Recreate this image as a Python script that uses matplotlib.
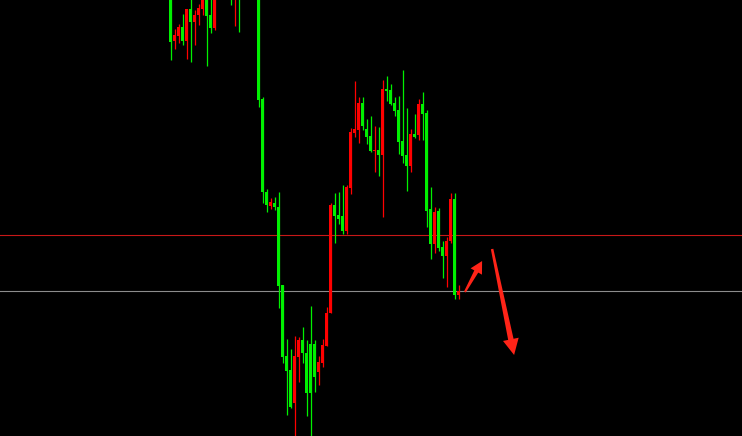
import numpy as np
import matplotlib
matplotlib.use("Agg")
import matplotlib.pyplot as plt
from matplotlib.patches import Polygon

# OHLC series (price units), one entry per bar
opens = [446, 395, 400, 409, 395, 427, 414, 421, 427, 442, 421, 408,
         481, 476, 501, 476, 444, 476, 466, 446, 471, 456,
         446, 337, 244, 230, 233, 229, 151, 80, 66, 33, 79, 96, 83, 92, 92, 64, 73, 90, 123,
         231, 221, 220, 205, 248, 303, 306, 333, 307, 300, 285, 286, 281, 347, 346, 333, 326,
         295, 281, 270, 302, 301, 332, 323, 227, 192, 225, 189, 180, 195, 237, 141]
closes = [394, 401, 409, 395, 427, 414, 421, 428, 445, 420, 408, 456,
          451, 496, 466, 448, 466, 446, 441, 466, 444, 442,
          336, 244, 231, 234, 229, 150, 79, 65, 29, 80, 96, 83, 43, 43, 59, 74, 91, 123, 231,
          220, 217, 205, 249, 304, 307, 333, 310, 299, 285, 285, 281, 347, 345, 332, 325, 294,
          280, 270, 302, 299, 332, 322, 225, 192, 224, 188, 180, 195, 237, 141, 145]
highs = [450, 407, 412, 422, 427, 442, 426, 432, 444, 446, 440, 461,
         491, 506, 516, 486, 481, 486, 471, 476, 481, 466,
         451, 339, 247, 238, 239, 244, 151, 97, 87, 100, 99, 109, 96, 130, 96, 80, 97, 129, 233,
         243, 244, 251, 251, 308, 355, 339, 339, 317, 320, 310, 309, 356, 360, 352, 339, 340,
         366, 328, 307, 322, 337, 344, 326, 249, 229, 228, 195, 199, 243, 243, 151]
lows = [376, 387, 393, 391, 377, 374, 391, 411, 421, 370, 403, 406,
        444, 466, 456, 431, 410, 404, 438, 439, 440, 438,
        329, 233, 224, 227, 226, 128, 73, 21, 28, -9, 54, 73, 20, -9, 44, 51, 69, 90, 123,
        193, 212, 202, 202, 242, 299, 293, 306, 292, 284, 264, 260, 219, 335, 331, 320, 282,
        273, 245, 264, 298, 296, 296, 209, 177, 183, 185, 158, 149, 193, 137, 137]

# Two horizontal reference levels
level_upper = 201
level_lower = 145

# Annotation arrows: (bar index, price) for tail and tip
arrow_up_tail, arrow_up_tip = (73.6, 144), (77.9, 175)
arrow_down_tail, arrow_down_tip = (80.4, 187), (85.9, 81)

UP = "#ff0000"
DOWN = "#00f000"
BG = "#000000"

fig = plt.figure(figsize=(7.42, 4.36), dpi=100, facecolor=BG)
ax = fig.add_axes([0, 0, 1, 1], facecolor=BG)
ax.set_xlim(-170.5 / 4, (742 - 170.5) / 4)
ax.set_ylim(0, 436)
ax.axis("off")

o = np.array(opens, float)
c = np.array(closes, float)
h = np.array(highs, float)
l = np.array(lows, float)
idx = np.arange(len(o))
cols = [UP if cc >= oo else DOWN for oo, cc in zip(o, c)]

ax.axhline(level_upper, color="#c81818", lw=0.8, zorder=1)
ax.axhline(level_lower, color="#8c8c8c", lw=0.8, zorder=1)

ax.vlines(idx, l, h, colors=cols, lw=0.9, zorder=2)
body = np.maximum(np.abs(c - o), 1.2)
ax.bar(idx, body, bottom=np.minimum(o, c), width=0.7, color=cols,
       linewidth=0, zorder=3)


def draw_arrow(tail, tip, w_tail, w_neck, head_len, head_w, color):
    """Tapered arrow built in pixel space, drawn in data coordinates."""
    fig.canvas.draw()
    t = ax.transData.transform(tail)
    p = ax.transData.transform(tip)
    d = p - t
    L = np.hypot(*d)
    u = d / L
    n = np.array([-u[1], u[0]])
    neck = p - u * head_len
    pts = [t + n * w_tail / 2, neck + n * w_neck / 2, neck + n * head_w / 2, p,
           neck - n * head_w / 2, neck - n * w_neck / 2, t - n * w_tail / 2]
    pts = ax.transData.inverted().transform(np.array(pts))
    ax.add_patch(Polygon(pts, closed=True, color=color, lw=0, zorder=5))


draw_arrow(arrow_up_tail, arrow_up_tip, 2.0, 4.5, 12, 13, "#ff2418")
draw_arrow(arrow_down_tail, arrow_down_tip, 2.5, 5.5, 16, 16, "#ff2418")

fig.savefig("out.png", dpi=100, facecolor=BG)
